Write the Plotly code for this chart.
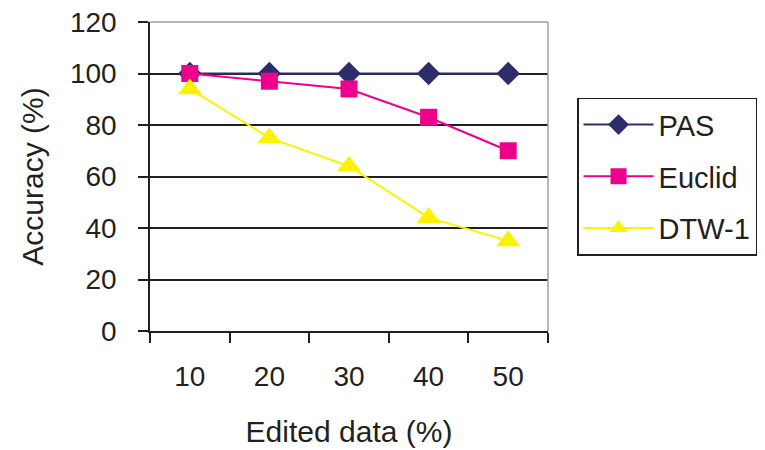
import plotly.graph_objects as go

categories = ["10", "20", "30", "40", "50"]
pas = [100, 100, 100, 100, 100]
euclid = [100, 97, 94, 83, 70]
dtw1 = [94, 75, 64, 44, 35]
y_ticks = [0, 20, 40, 60, 80, 100, 120]

FAMILY = "Liberation Sans, Arial, sans-serif"
TXT = "#231F20"
TICKFONT = dict(family=FAMILY, size=28, color=TXT)
TITLEFONT = dict(family=FAMILY, size=30, color=TXT)
LEGFONT = dict(family=FAMILY, size=29, color=TXT)

fig = go.Figure()
fig.add_trace(go.Scatter(x=categories, y=pas, name="PAS", mode="lines+markers",
                         legendgroup="a",
                         line=dict(color="#2E2D6B", width=2),
                         marker=dict(symbol="diamond", size=18, color="#2E2D6B")))
fig.add_trace(go.Scatter(x=categories, y=euclid, name="Euclid", mode="lines+markers",
                         legendgroup="b",
                         line=dict(color="#EC008C", width=2),
                         marker=dict(symbol="square", size=17, color="#EC008C")))
fig.add_trace(go.Scatter(x=categories, y=dtw1, name="DTW-1", mode="lines+markers",
                         legendgroup="c",
                         line=dict(color="#FFF200", width=2),
                         marker=dict(symbol="triangle-up", size=21, color="#FFF200")))

fig.update_layout(
    width=765, height=450,
    margin=dict(l=150, r=217, t=22, b=119, autoexpand=False),
    paper_bgcolor="white", plot_bgcolor="white",
    font=TICKFONT,
    showlegend=True,
    legend=dict(x=1.073, y=0.755, xanchor="left", yanchor="top",
                bordercolor=TXT, borderwidth=1.5, bgcolor="white",
                font=LEGFONT, itemwidth=70, tracegroupgap=11),
    shapes=[
        dict(type="line", xref="paper", yref="paper", x0=0, x1=1, y0=1, y1=1,
             line=dict(color="#A0A0A0", width=1.5), layer="above"),
        dict(type="line", xref="paper", yref="paper", x0=1, x1=1, y0=0, y1=1,
             line=dict(color="#A0A0A0", width=1.5), layer="above"),
    ],
)
fig.update_xaxes(type="category", categoryorder="array", categoryarray=categories,
                 range=[-0.5, 4.5], tickson="boundaries", ticks="outside",
                 ticklen=10, tickwidth=1.5, tickcolor=TXT, tickfont=TICKFONT,
                 showline=True, linecolor=TXT, linewidth=1.5,
                 showgrid=False, zeroline=False, ticklabelstandoff=20,
                 automargin=False,
                 title=dict(text="Edited data (%)", font=TITLEFONT, standoff=30))
fig.update_yaxes(range=[0, 120], tickvals=y_ticks, ticks="outside",
                 ticklen=10, tickwidth=1.5, tickcolor=TXT, tickfont=TICKFONT,
                 showline=True, linecolor=TXT, linewidth=1.5,
                 showgrid=True, gridcolor=TXT, gridwidth=1.5,
                 zeroline=False, ticklabelstandoff=16, automargin=False,
                 title=dict(text="Accuracy (%)", font=TITLEFONT, standoff=17))

fig.write_html("out.html")
